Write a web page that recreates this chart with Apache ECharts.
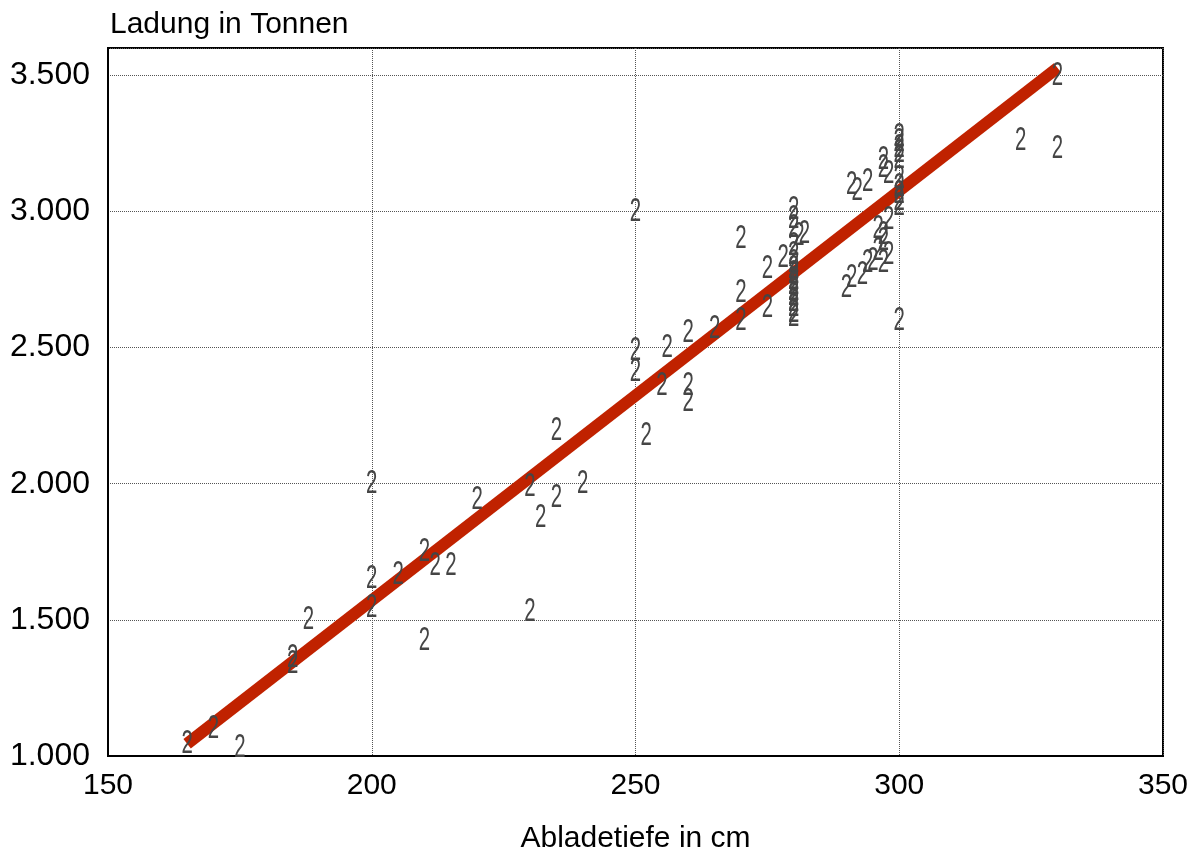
<!DOCTYPE html>
<html>
<head>
<meta charset="utf-8">
<script src="https://cdn.jsdelivr.net/npm/echarts@6/dist/echarts.min.js"></script>
<style>
  html, body { margin: 0; padding: 0; background: #fff; }
  #chart { width: 1196px; height: 854px; }
</style>
</head>
<body>
<div id="chart"></div>
<script>
// Abladetiefe (cm) der einzelnen Schiffe
const depthCm = [
  165, 170, 175, 185, 185, 188, 200, 200, 200, 205, 210, 212, 215, 210,
  220, 230, 230, 232, 235, 235, 240,
  250, 250, 250, 252, 255, 256, 260, 260, 260, 265,
  270, 270, 270, 275, 275, 278,
  280, 280, 280, 280, 280, 280, 280, 280, 280, 280, 280, 280, 280, 280, 280, 280,
  281, 282,
  290, 291, 293, 294, 295, 296, 296, 297, 297, 298, 298, 297,
  291, 292, 294, 297, 297, 298,
  300, 300, 300, 300, 300, 300, 300, 300, 300, 300, 300,
  323, 330, 330
];
// Ladung (t) der einzelnen Schiffe
const loadT = [
  1045, 1100, 1030, 1340, 1360, 1500, 2000, 1650, 1545, 1665, 1750, 1700, 1700, 1425,
  1940, 1990, 1530, 1875, 1950, 2195, 2000,
  3000, 2490, 2410, 2175, 2360, 2500, 2360, 2300, 2555, 2570,
  2900, 2700, 2600, 2645, 2790, 2830,
  3005, 2975, 2940, 2875, 2840, 2810, 2790, 2770, 2750, 2730, 2710, 2690, 2670, 2650, 2630, 2615,
  2910, 2920,
  2720, 2755, 2766, 2813, 2821, 2857, 2938, 2894, 2913, 2968, 2840, 2810,
  3100, 3075, 3110, 3190, 3160, 3140,
  3275, 3255, 3235, 3215, 3195, 3120, 3090, 3065, 3040, 3020, 2600,
  3260, 3230, 3500
];
// Ausgleichsgerade
const fitDepth = [165, 330];
const fitLoad = [1045, 3527];

const yTicks = [1000, 1500, 2000, 2500, 3000, 3500];

const fmtDE = v => String(v).replace(/\B(?=(\d{3})+(?!\d))/g, '.');

const chart = echarts.init(document.getElementById('chart'));
chart.setOption({
  animation: false,
  backgroundColor: '#ffffff',
  grid: {
    left: 108, right: 33, top: 48, bottom: 98,
    outerBoundsMode: 'none',
    containLabel: false,
    show: true, borderColor: '#000', borderWidth: 2, backgroundColor: 'transparent'
  },
  xAxis: {
    type: 'value', min: 150, max: 350, interval: 50,
    name: 'Abladetiefe in cm', nameLocation: 'middle', nameGap: 68,
    nameTextStyle: { fontFamily: 'Liberation Sans', fontSize: 30, color: '#000' },
    axisLine: { show: true, lineStyle: { color: '#000', width: 2 } },
    axisTick: { show: false },
    axisLabel: { fontFamily: 'Liberation Sans', fontSize: 30, color: '#000', margin: 15 },
    splitLine: { show: true, lineStyle: { color: '#555', width: 1, type: [1, 1] } }
  },
  yAxis: {
    type: 'value', min: 1000, max: 3600, interval: 500,
    name: 'Ladung in Tonnen', nameLocation: 'end', nameGap: 8,
    nameTextStyle: { fontFamily: 'Liberation Sans', fontSize: 30, color: '#000', align: 'left', padding: [0, 0, 0, 2] },
    axisLine: { show: true, lineStyle: { color: '#000', width: 2 } },
    axisTick: { show: false },
    axisLabel: {
      fontFamily: 'Liberation Sans', fontSize: 32, color: '#000', margin: 18,
      formatter: v => (yTicks.indexOf(v) >= 0 ? fmtDE(v) : '')
    },
    splitLine: { show: true, lineStyle: { color: '#555', width: 1, type: [1, 1] } }
  },
  series: [
    {
      type: 'line',
      data: fitDepth.map((x, i) => [x, fitLoad[i]]),
      showSymbol: false,
      lineStyle: { color: '#c02200', width: 12, cap: 'butt' },
      z: 2
    },
    {
      type: 'custom',
      data: depthCm.map((x, i) => [x, loadT[i]]),
      z: 5,
      renderItem: function (params, api) {
        const p = api.coord([api.value(0), api.value(1)]);
        return {
          type: 'text',
          x: p[0], y: p[1],
          scaleX: 0.6,
          style: {
            text: '2', x: 0, y: 0,
            fontFamily: 'Liberation Sans', fontSize: 34,
            fill: '#454545', align: 'center', verticalAlign: 'middle'
          }
        };
      }
    }
  ]
});
</script>
</body>
</html>
